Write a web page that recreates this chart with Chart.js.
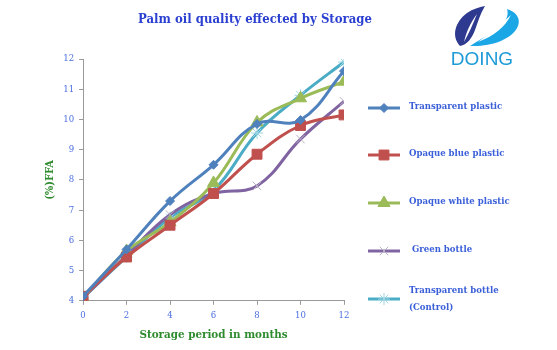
<!DOCTYPE html>
<html><head><meta charset="utf-8">
<script src="https://cdn.jsdelivr.net/npm/chart.js@4/dist/chart.umd.min.js"></script>
<style>
html,body{margin:0;padding:0;background:#fff;}
#wrap{position:relative;width:557px;height:350px;}
canvas{position:absolute;left:0;top:0;}
#logo{position:absolute;left:440px;top:0px;width:117px;height:80px;}
</style></head>
<body><div id="wrap"><canvas id="c" width="557" height="350"></canvas>
<svg id="logo" viewBox="440 0 117 80" width="117" height="80">
  <path d="M460,46 C451,36 455,22 467,13 C473,9 479,7 485,6 C480,14 478,22 475,30 C472,38 467,45 460,46 Z" fill="#2E3A8F"/>
  <path d="M464,42 C466,33 470,23 477,14 C473,24 469,33 464,42 Z" fill="#fff"/>
  <path d="M470,46 C490,47 512,40 518,26 C521,18 516,12 507,9 C510,18 502,28 490,34 C483,38 476,42 470,46 Z" fill="#1BA6E6"/>
  <path d="M478,42 C490,33 500,25 511,15 C505,27 494,36 478,42 Z" fill="#fff"/>
  <text x="482" y="65" text-anchor="middle" font-family="Liberation Sans, Arial, sans-serif" font-size="19" fill="#1E9BD7">DOING</text>
</svg>
</div>
<script>
const months = [0, 2, 4, 6, 8, 10, 12];
const seriesNames = ["Transparent plastic", "Opaque blue plastic", "Opaque white plastic", " Green bottle", "Transparent bottle (Control)"];
const transparentPlastic = [4.15, 5.7, 7.3, 8.5, 9.85, 9.98, 11.6];
const opaqueBluePlastic = [4.15, 5.45, 6.5, 7.55, 8.85, 9.8, 10.15];
const opaqueWhitePlastic = [4.1, 5.65, 6.6, 7.9, 9.9, 10.7, 11.25];
const greenBottle = [4.1, 5.5, 6.85, 7.55, 7.8, 9.35, 10.6];
const transparentBottle = [4.1, 5.45, 6.75, 7.65, 9.55, 10.8, 11.9];
const yTicks = [4, 5, 6, 7, 8, 9, 10, 11, 12];
const titleText = 'Palm oil quality effected by Storage';

const styles = [
  {line:'#4F81BD', pt:'rectRot', r:4.5, pf:'#4F81BD', ps:'#4F81BD', pw:1},
  {line:'#C0504D', pt:'rect', r:7, pf:'#C0504D', ps:'#C0504D', pw:1},
  {line:'#9BBB59', pt:'triangle', r:7, pf:'#9BBB59', ps:'#9BBB59', pw:1},
  {line:'#8064A2', pt:'crossRot', r:6, pf:'#b8b0c4', ps:'#b8b0c4', pw:1},
  {line:'#4BACC6', pt:'star', r:6, pf:'#9fd6e4', ps:'#9fd6e4', pw:1}
];
const allValues = [transparentPlastic, opaqueBluePlastic, opaqueWhitePlastic, greenBottle, transparentBottle];

const datasets = allValues.map((vals, i) => ({
  label: seriesNames[i],
  data: months.map((m, j) => ({x: m, y: vals[j]})),
  borderColor: styles[i].line,
  backgroundColor: styles[i].pf,
  borderWidth: 3,
  tension: 0.4,
  pointStyle: styles[i].pt,
  pointRadius: styles[i].r,
  pointBackgroundColor: styles[i].pf,
  pointBorderColor: styles[i].ps,
  pointBorderWidth: styles[i].pw,
  fill: false
}));

const serif = "'DejaVu Serif Condensed', 'DejaVu Serif', serif";
const legendLines = [["Transparent plastic"], ["Opaque blue plastic"], ["Opaque white plastic"], [" Green bottle"], ["Transparent bottle", "(Control)"]];
const legendY = [108, 155, 203, 251, 299];

const decorPlugin = {
  id: 'decor',
  afterDraw(chart) {
    const ctx = chart.ctx;
    ctx.save();
    ctx.fillStyle = '#2B3FD0';
    ctx.font = 'bold 13px ' + serif;
    ctx.textAlign = 'center'; ctx.textBaseline = 'middle';
    ctx.fillText(titleText, 255, 20);
    legendLines.forEach((lines, i) => {
      const y = legendY[i];
      const s = styles[i];
      ctx.strokeStyle = s.line; ctx.lineWidth = 3;
      ctx.beginPath(); ctx.moveTo(368, y); ctx.lineTo(400, y); ctx.stroke();
      if (Chart.helpers && Chart.helpers.drawPoint) {
        ctx.fillStyle = s.pf; ctx.strokeStyle = s.ps; ctx.lineWidth = s.pw;
        Chart.helpers.drawPoint(ctx, {pointStyle: s.pt, radius: s.r, rotation: 0, borderWidth: s.pw}, 384, y);
      }
      ctx.fillStyle = '#3A5FD8';
      ctx.font = 'bold 9.5px ' + serif;
      ctx.textBaseline = 'middle'; ctx.textAlign = 'left';
      const x0 = 409;
      if (lines.length === 1) ctx.fillText(lines[0], x0, y - 1);
      else { ctx.fillText(lines[0], x0, y - 8); ctx.fillText(lines[1], x0, y + 9); }
    });
    ctx.restore();
  }
};

new Chart(document.getElementById('c'), {
  type: 'line',
  data: {datasets},
  options: {
    responsive: false,
    animation: false,
    layout: {padding: {left: 44, right: 213, top: 59, bottom: 8}},
    plugins: {
      legend: {display: false},
      tooltip: {enabled: false},
      title: {display: false}
    },
    scales: {
      x: {
        type: 'linear', min: 0, max: 12,
        afterBuildTicks: (s) => { s.ticks = months.map(v => ({value: v})); },
        border: {color: '#9a9a9a', width: 1},
        grid: {drawOnChartArea: false, drawTicks: true, tickLength: 4, color: '#9a9a9a'},
        ticks: {color: '#4A6EE0', font: {family: serif, size: 9.5}, padding: 5},
        title: {display: true, text: 'Storage period in months', color: '#2E8B2E',
          font: {family: serif, size: 11.5, weight: 'bold'}, padding: {top: 2, bottom: 0}}
      },
      y: {
        min: 4, max: 12,
        afterBuildTicks: (s) => { s.ticks = yTicks.map(v => ({value: v})); },
        border: {color: '#9a9a9a', width: 1},
        grid: {drawOnChartArea: false, drawTicks: true, tickLength: 4, color: '#9a9a9a'},
        ticks: {color: '#4A6EE0', font: {family: serif, size: 9.5}, padding: 5},
        title: {display: true, text: '(%)FFA', color: '#2E8B2E',
          font: {family: serif, size: 11, weight: 'bold'}, padding: {top: 0, bottom: 1}}
      }
    }
  },
  plugins: [decorPlugin]
});
</script></body></html>
